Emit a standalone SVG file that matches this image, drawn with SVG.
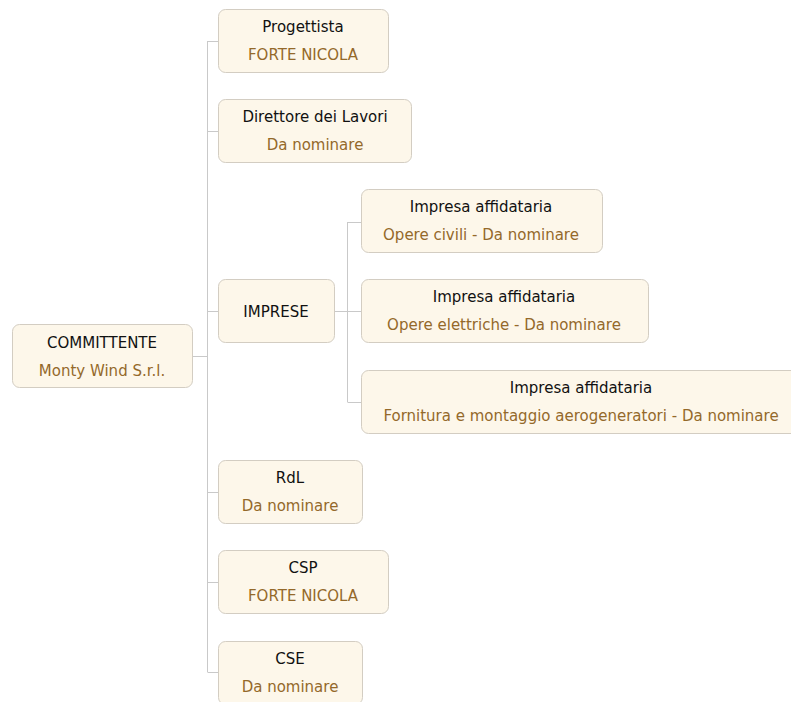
<svg xmlns="http://www.w3.org/2000/svg" width="791" height="702" viewBox="0 0 791 702">
<style>
.box{fill:#fdf7ea;stroke:#d3cdc2;stroke-width:1}
.t{font-family:"DejaVu Sans",Verdana,sans-serif;font-size:15px;fill:#111;text-anchor:middle}
.s{font-family:"DejaVu Sans",Verdana,sans-serif;font-size:15px;fill:#94692a;text-anchor:middle}
.c{stroke:#c9c9c9;stroke-width:1;fill:none}
</style>
<rect width="791" height="702" fill="#fff"/>
<g id="connectors">
<path class="c" d="M192.5 356.5H207.5M207.5 41V672M207.5 41.5H218M207.5 131.5H218M207.5 311.5H218M207.5 492.5H218M207.5 582.5H218M207.5 672.5H218"/>
<path class="c" d="M334 311.5H347.5M347.5 222V402M347.5 222.5H361M347.5 311.5H361M347.5 402.5H361"/>
</g>
<g id="committente"><rect class="box" x="12.5" y="324.5" width="180" height="63" rx="7"/><text class="t" x="102" y="348">COMMITTENTE</text><text class="s" x="102" y="376">Monty Wind S.r.l.</text></g>
<g id="progettista"><rect class="box" x="218.5" y="9.5" width="170" height="63" rx="7"/><text class="t" x="303" y="32">Progettista</text><text class="s" x="303" y="60">FORTE NICOLA</text></g>
<g id="direttore"><rect class="box" x="218.5" y="99.5" width="193" height="63" rx="7"/><text class="t" x="315" y="122">Direttore dei Lavori</text><text class="s" x="315" y="150">Da nominare</text></g>
<g id="imprese"><rect class="box" x="218.5" y="279.5" width="116" height="63" rx="7"/><text class="t" x="276" y="317">IMPRESE</text></g>
<g id="impresa1"><rect class="box" x="361.5" y="189.5" width="241" height="63" rx="7"/><text class="t" x="481" y="212">Impresa affidataria</text><text class="s" x="481" y="240">Opere civili - Da nominare</text></g>
<g id="impresa2"><rect class="box" x="361.5" y="279.5" width="287" height="63" rx="7"/><text class="t" x="504" y="302">Impresa affidataria</text><text class="s" x="504" y="330">Opere elettriche - Da nominare</text></g>
<g id="impresa3"><rect class="box" x="361.5" y="370.5" width="440" height="63" rx="7"/><text class="t" x="581" y="393">Impresa affidataria</text><text class="s" x="581" y="421">Fornitura e montaggio aerogeneratori - Da nominare</text></g>
<g id="rdl"><rect class="box" x="218.5" y="460.5" width="144" height="63" rx="7"/><text class="t" x="290" y="483">RdL</text><text class="s" x="290" y="511">Da nominare</text></g>
<g id="csp"><rect class="box" x="218.5" y="550.5" width="170" height="63" rx="7"/><text class="t" x="303" y="573">CSP</text><text class="s" x="303" y="601">FORTE NICOLA</text></g>
<g id="cse"><rect class="box" x="218.5" y="641.5" width="144" height="63" rx="7"/><text class="t" x="290" y="664">CSE</text><text class="s" x="290" y="692">Da nominare</text></g>
</svg>
